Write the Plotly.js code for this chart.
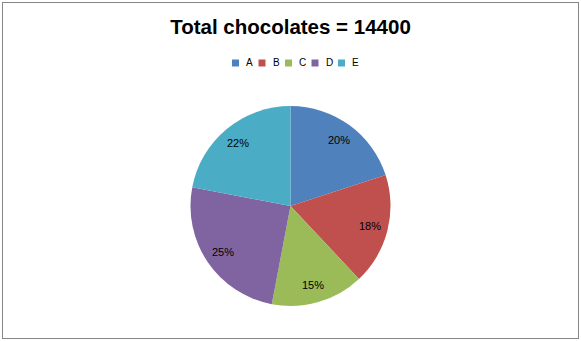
<!DOCTYPE html>
<html>
<head>
<meta charset="utf-8">
<script src="https://cdn.plot.ly/plotly-3.0.1.min.js"></script>
<style>
html,body{margin:0;padding:0;background:#fff;}
#chart{width:581px;height:341px;}
</style>
</head>
<body>
<div id="chart"></div>
<div style="position:absolute;left:2px;top:2px;width:575px;height:335px;border:1px solid #868686;pointer-events:none;"></div>
<script>
const categories = ["A", "B", "C", "D", "E"];
const percentages = [20, 18, 15, 25, 22];
const sliceColors = ["#4F81BD", "#C0504D", "#9BBB59", "#8064A2", "#4BACC6"];
const chartTitle = "Total chocolates = 14400";

const W = 581, H = 341;
const M = {l: 0, r: 0, t: 106, b: 35};
const plotW = W - M.l - M.r, plotH = H - M.t - M.b;
const radiusPx = Math.min(plotW, plotH) / 2;
const labelFont = "Liberation Sans, Arial, sans-serif";

// percentage labels placed along each slice's mid-angle (derived from the data)
const total = percentages.reduce((a, b) => a + b, 0);
const annotations = [];
let cum = 0;
percentages.forEach(function (v) {
  const mid = (cum + v / 2) / total * 2 * Math.PI;
  cum += v;
  const rr = 0.82 * radiusPx;
  annotations.push({
    xref: "paper", yref: "paper",
    x: 0.5 + rr * Math.sin(mid) / plotW,
    y: 0.5 + rr * Math.cos(mid) / plotH,
    text: Math.round(v / total * 100) + "%",
    showarrow: false,
    font: {family: labelFont, size: 11, color: "#000"},
    xanchor: "center", yanchor: "middle"
  });
});

// compact legend (swatch + label), laid out in pixels then converted to paper units
const shapes = [];
const legStartPx = 232, legStep = 26.5, legYpx = 63, sw = 7;
categories.forEach(function (c, i) {
  const x0 = legStartPx + i * legStep;
  shapes.push({
    type: "rect", xref: "paper", yref: "paper",
    x0: (x0 - M.l) / plotW, x1: (x0 + sw - M.l) / plotW,
    y0: (H - M.b - (legYpx + sw / 2)) / plotH, y1: (H - M.b - (legYpx - sw / 2)) / plotH,
    fillcolor: sliceColors[i], line: {width: 0}
  });
  annotations.push({
    xref: "paper", yref: "paper",
    x: (x0 + sw + 5 - M.l) / plotW,
    y: (H - M.b - legYpx) / plotH,
    text: c, showarrow: false,
    xanchor: "left", yanchor: "middle",
    font: {family: labelFont, size: 10, color: "#000"}
  });
});

const trace = {
  type: "pie",
  labels: categories,
  values: percentages,
  sort: false,
  direction: "clockwise",
  rotation: 0,
  marker: {colors: sliceColors, line: {width: 0}},
  textinfo: "none",
  hoverinfo: "label+percent"
};

const layout = {
  width: W,
  height: H,
  margin: M,
  paper_bgcolor: "#fff",
  title: {
    text: "<b>" + chartTitle + "</b>",
    font: {family: labelFont, size: 20.5, color: "#000"},
    x: 0.5, xanchor: "center",
    y: 0.92, yanchor: "middle", yref: "container"
  },
  showlegend: false,
  annotations: annotations,
  shapes: shapes
};

Plotly.newPlot("chart", [trace], layout, {displayModeBar: false, staticPlot: true});
</script>
</body>
</html>
